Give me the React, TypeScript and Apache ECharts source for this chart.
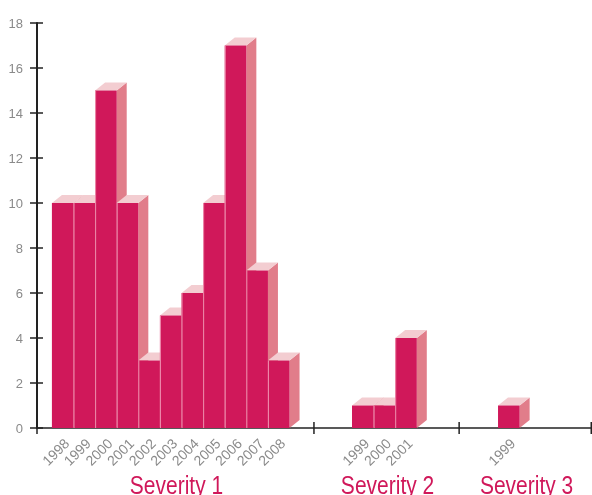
import React, { useEffect, useRef } from "react";
import * as echarts from "echarts";

// ---- data ----
const groupNames = ["Severity 1", "Severity 2", "Severity 3"];
const sev1Years = ["1998", "1999", "2000", "2001", "2002", "2003", "2004", "2005", "2006", "2007", "2008"];
const sev1Values = [10, 10, 15, 10, 3, 5, 6, 10, 17, 7, 3];
const sev2Years = ["1999", "2000", "2001"];
const sev2Values = [1, 1, 4];
const sev3Years = ["1999"];
const sev3Values = [1];
const yTicks = { min: 0, max: 18, interval: 2 };

// ---- layout (x axis in bar-width units) ----
const groupBounds = [0, 12.82, 19.54, 25.69];
const barStarts = [0.69, 14.58, 21.34];

const FRONT = "#D0185A";
const TOP = "#F3CDD1";
const SIDE = "#E17D8A";
const SEP = "#EE8FAE";
const DX = 10;
const DY = 8;

const groupYears = [sev1Years, sev2Years, sev3Years];
const groupValues = [sev1Values, sev2Values, sev3Values];

type Bar = { x: number; v: number; year: string; first: boolean };
const bars: Bar[] = [];
groupYears.forEach((years, g) => {
  years.forEach((year, i) => {
    bars.push({ x: barStarts[g] + i, v: groupValues[g][i], year, first: i === 0 });
  });
});

export default function App() {
  const ref = useRef<HTMLDivElement>(null);
  useEffect(() => {
    if (!ref.current) return;
    const chart = echarts.init(ref.current, undefined, { renderer: "svg" });
    const labelFont = "'Liberation Sans', Arial, sans-serif";
    const option: any = {
      animation: false,
      grid: { left: 37, right: 0, top: 23, bottom: 67, containLabel: false },
      xAxis: {
        type: "value",
        min: groupBounds[0],
        max: groupBounds[groupBounds.length - 1],
        axisLine: { show: true, onZero: false, lineStyle: { color: "#222", width: 1.5 } },
        axisTick: { show: false },
        axisLabel: { show: false },
        splitLine: { show: false },
      },
      yAxis: [
        {
          type: "value",
          min: yTicks.min,
          max: yTicks.max,
          interval: yTicks.interval,
          axisLine: { show: true, lineStyle: { color: "#222", width: 2 } },
          axisTick: { show: true, length: 7, lineStyle: { color: "#222", width: 1.5 } },
          axisLabel: { color: "#8a8a8a", fontSize: 13, margin: 14, fontFamily: labelFont },
          splitLine: { show: false },
        },
        {
          type: "value",
          min: yTicks.min,
          max: yTicks.max,
          interval: yTicks.interval,
          position: "left",
          axisLine: { show: false },
          axisTick: { show: true, inside: true, length: 6, lineStyle: { color: "#222", width: 1.5 } },
          axisLabel: { show: false },
          splitLine: { show: false },
        },
      ],
      series: [
        {
          type: "custom",
          clip: false,
          data: bars.map((b) => [b.x, b.v]),
          renderItem: (params: any, api: any) => {
            const item = bars[params.dataIndex];
            const x0 = api.value(0) as number;
            const v = api.value(1) as number;
            const b = api.coord([x0, 0]);
            const t = api.coord([x0 + 1, v]);
            const left = b[0];
            const right = t[0];
            const top = t[1];
            const bottom = b[1];
            const children: any[] = [
              {
                type: "polygon",
                shape: { points: [[right, top], [right + DX, top - DY], [right + DX, bottom - DY], [right, bottom]] },
                style: { fill: SIDE },
              },
              {
                type: "polygon",
                shape: { points: [[left, top], [right, top], [right + DX, top - DY], [left + DX, top - DY]] },
                style: { fill: TOP },
              },
              {
                type: "rect",
                shape: { x: left, y: top, width: right - left, height: bottom - top },
                style: { fill: FRONT },
              },
            ];
            if (!item.first) {
              children.push({
                type: "line",
                shape: { x1: left + 0.5, y1: top, x2: left + 0.5, y2: bottom },
                style: { stroke: SEP, lineWidth: 1 },
              });
            }
            children.push({
              type: "text",
              x: (left + right) / 2 + 4,
              y: bottom + 13,
              rotation: Math.PI / 4,
              style: {
                text: item.year,
                align: "right",
                verticalAlign: "middle",
                fill: "#8a8a8a",
                fontSize: 14,
                fontFamily: labelFont,
              },
            });
            return { type: "group", children };
          },
        },
        {
          type: "custom",
          clip: false,
          data: groupNames.map((_, i) => [groupBounds[i], groupBounds[i + 1]]),
          renderItem: (params: any, api: any) => {
            const s = api.coord([api.value(0), 0]);
            const e = api.coord([api.value(1), 0]);
            const children: any[] = [
              { type: "line", shape: { x1: s[0], y1: s[1] - 6, x2: s[0], y2: s[1] + 6 }, style: { stroke: "#222", lineWidth: 1.5 } },
              {
                type: "text",
                x: (s[0] + e[0]) / 2 + 1,
                y: s[1] + 57,
                scaleX: 0.84,
                style: {
                  text: groupNames[params.dataIndex],
                  align: "center",
                  verticalAlign: "middle",
                  fill: FRONT,
                  fontSize: 25,
                  fontFamily: "'Liberation Sans', Arial, sans-serif",
                },
              },
            ];
            if (params.dataIndex === groupNames.length - 1) {
              children.push({ type: "line", shape: { x1: e[0] - 0.75, y1: e[1] - 6, x2: e[0] - 0.75, y2: e[1] + 6 }, style: { stroke: "#222", lineWidth: 1.5 } });
            }
            return { type: "group", children };
          },
        },
      ],
    };
    chart.setOption(option);
    return () => chart.dispose();
  }, []);
  return <div ref={ref} style={{ position: "fixed", left: 0, top: 0, width: 592, height: 495 }} />;
}
